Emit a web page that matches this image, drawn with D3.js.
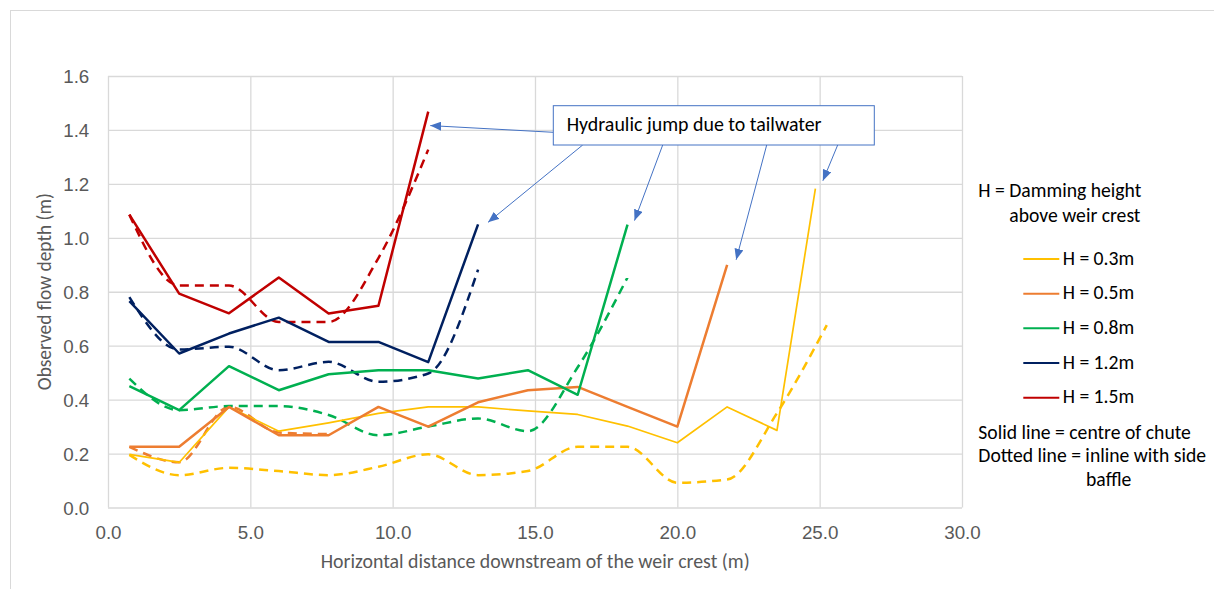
<!DOCTYPE html>
<html>
<head>
<meta charset="utf-8">
<script src="https://cdn.jsdelivr.net/npm/d3@7"></script>
<style>
  html, body { margin: 0; padding: 0; background: #fff; }
  svg { display: block; font-family: Carlito, Calibri, "Open Sans", sans-serif; }
</style>
</head>
<body>
<svg id="chart" width="1214" height="589"></svg>
<script>
// Measuring stations (m downstream of the weir crest)
const stations = [0.75, 2.5, 4.25, 6.0, 7.75, 9.5, 11.25, 13.0, 14.75, 16.5, 18.25, 20.0, 21.75, 23.5, 25.25];
const stationsH03Centre = [0.75, 2.5, 4.25, 6.0, 7.75, 9.5, 11.25, 13.0, 14.75, 16.5, 18.25, 20.0, 21.75, 23.5, 24.85];

// Observed flow depth (m): centre of chute (solid) and inline with side baffle (dashed)
const h03Centre = [0.197, 0.167, 0.373, 0.283, 0.314, 0.349, 0.373, 0.373, 0.358, 0.345, 0.302, 0.240, 0.373, 0.286, 1.182];
const h03Side   = [0.195, 0.120, 0.147, 0.135, 0.120, 0.151, 0.197, 0.120, 0.135, 0.225, 0.225, 0.092, 0.104, 0.350, 0.676];
const h05Centre = [0.225, 0.225, 0.373, 0.268, 0.268, 0.373, 0.300, 0.390, 0.435, 0.447, 0.373, 0.300, 0.900];
const h05Side   = [0.225, 0.168, 0.373, 0.278, 0.272];
const h08Centre = [0.450, 0.361, 0.524, 0.435, 0.494, 0.509, 0.509, 0.478, 0.509, 0.418, 1.049];
const h08Side   = [0.478, 0.361, 0.376, 0.376, 0.343, 0.268, 0.300, 0.330, 0.283, 0.520, 0.853];
const h12Centre = [0.765, 0.571, 0.645, 0.704, 0.614, 0.614, 0.539, 1.050];
const h12Side   = [0.780, 0.586, 0.596, 0.509, 0.540, 0.466, 0.497, 0.882];
const h15Centre = [1.086, 0.793, 0.720, 0.853, 0.719, 0.748, 1.468];
const h15Side   = [1.086, 0.823, 0.823, 0.688, 0.688, 0.925, 1.327];

const legendLabels = ["H = 0.3m", "H = 0.5m", "H = 0.8m", "H = 1.2m", "H = 1.5m"];
const seriesColors = ["#FFC000", "#ED7D31", "#00B050", "#002060", "#C00000"];
const xTicks = [0, 5, 10, 15, 20, 25, 30];
const yTicks = [0, 0.2, 0.4, 0.6, 0.8, 1.0, 1.2, 1.4, 1.6];

const svg = d3.select("#chart");
const W = 1214, H = 589;
const plot = { left: 108, right: 962, top: 76, bottom: 507.5 };

const x = d3.scaleLinear().domain([0, 30]).range([plot.left, plot.right]);
const y = d3.scaleLinear().domain([0, 1.6]).range([plot.bottom, plot.top]);

const GRID = "#d9d9d9";
const AXIS_TEXT = "#595959";

// scale a text element so its rendered width equals the given width
function fitWidth(sel, target) {
  const w = sel.node().getComputedTextLength();
  const fs = parseFloat(sel.attr("font-size"));
  sel.attr("font-size", (fs * target / w).toFixed(2));
  return fs * target / w;
}

// chart frame
svg.append("rect").attr("width", W).attr("height", H).attr("fill", "#fff");
svg.append("rect")
  .attr("x", 10.5).attr("y", 10.5).attr("width", W).attr("height", H)
  .attr("fill", "none").attr("stroke", GRID).attr("stroke-width", 1);

// gridlines
const grid = svg.append("g");
grid.append("g")
  .attr("transform", `translate(0,${plot.bottom})`)
  .call(d3.axisBottom(x).tickValues(xTicks).tickSize(-(plot.bottom - plot.top)).tickFormat(""))
  .call(g => g.select(".domain").remove())
  .call(g => g.selectAll("line").attr("stroke", GRID).attr("stroke-width", 1.3));
grid.append("g")
  .attr("transform", `translate(${plot.left},0)`)
  .call(d3.axisLeft(y).tickValues(yTicks).tickSize(-(plot.right - plot.left)).tickFormat(""))
  .call(g => g.select(".domain").remove())
  .call(g => g.selectAll("line").attr("stroke", GRID).attr("stroke-width", 1.3));

// tick labels
const xAxis = svg.append("g")
  .attr("transform", `translate(0,${plot.bottom})`)
  .call(d3.axisBottom(x).tickValues(xTicks).tickSize(0).tickPadding(0).tickFormat(d3.format(".1f")));
xAxis.select(".domain").remove();
const yAxis = svg.append("g")
  .attr("transform", `translate(89.3,0)`)
  .call(d3.axisLeft(y).tickValues(yTicks).tickSize(0).tickPadding(0).tickFormat(d3.format(".1f")));
yAxis.select(".domain").remove();

// common tick font size, sized from the "10.0" label
const probe = svg.append("text").attr("font-size", 16).text("10.0");
const tickSize = fitWidth(probe, 33.3);
probe.remove();
xAxis.selectAll("text")
  .attr("font-family", null).attr("font-size", tickSize).attr("fill", AXIS_TEXT)
  .attr("dy", null).attr("y", 539.3 - plot.bottom);
yAxis.selectAll("text")
  .attr("font-family", null).attr("font-size", tickSize).attr("fill", AXIS_TEXT)
  .attr("dy", "0.36em").attr("x", 0);

// axis titles
const xTitle = svg.append("text")
  .attr("x", 535.2).attr("y", 568.3).attr("text-anchor", "middle")
  .attr("font-size", 16).attr("fill", AXIS_TEXT)
  .text("Horizontal distance downstream of the weir crest (m)");
fitWidth(xTitle, 429);
const yTitle = svg.append("text")
  .attr("transform", "translate(44,291.7) rotate(-90)")
  .attr("text-anchor", "middle").attr("dy", "0.35em")
  .attr("font-size", 16).attr("fill", AXIS_TEXT)
  .text("Observed flow depth (m)");
fitWidth(yTitle, 197);

// series
const series = [
  { xs: stations, ys: h03Side, color: seriesColors[0], width: 2.5, dashed: true },
  { xs: stations, ys: h05Side, color: seriesColors[1], width: 2.5, dashed: true },
  { xs: stations, ys: h08Side, color: seriesColors[2], width: 2.5, dashed: true },
  { xs: stations, ys: h12Side, color: seriesColors[3], width: 2.5, dashed: true },
  { xs: stations, ys: h15Side, color: seriesColors[4], width: 2.5, dashed: true },
  { xs: stationsH03Centre, ys: h03Centre, color: seriesColors[0], width: 1.7, dashed: false },
  { xs: stations, ys: h05Centre, color: seriesColors[1], width: 2.5, dashed: false },
  { xs: stations, ys: h08Centre, color: seriesColors[2], width: 2.5, dashed: false },
  { xs: stations, ys: h12Centre, color: seriesColors[3], width: 2.5, dashed: false },
  { xs: stations, ys: h15Centre, color: seriesColors[4], width: 2.5, dashed: false }
];

const lines = svg.append("g").attr("fill", "none");
series.forEach(s => {
  const pts = s.ys.map((v, i) => [s.xs[i], v]);
  const gen = d3.line()
    .x(d => x(d[0])).y(d => y(d[1]))
    .curve(s.dashed ? d3.curveMonotoneX : d3.curveLinear);
  lines.append("path")
    .attr("d", gen(pts))
    .attr("stroke", s.color)
    .attr("stroke-width", s.width)
    .attr("stroke-linejoin", "round")
    .attr("stroke-dasharray", s.dashed ? "9,6" : null);
});

// callout: hydraulic jump
const CALLOUT = "#4472C4";
svg.append("defs").append("marker")
  .attr("id", "arrowhead")
  .attr("markerUnits", "userSpaceOnUse")
  .attr("markerWidth", 11).attr("markerHeight", 9)
  .attr("refX", 11).attr("refY", 4.5)
  .attr("orient", "auto")
  .append("path").attr("d", "M0,0 L11,4.5 L0,9 Z").attr("fill", CALLOUT);

const box = { x0: 553.3, y0: 105.7, x1: 874.3, y1: 145 };
// each arrow points at the top of a series' centre line (the jump)
const jumpTargets = [
  { xs: stations, ys: h15Centre, from: [553.3, 132.3], off: [2, 14] },
  { xs: stations, ys: h12Centre, from: [582.7, box.y1], off: [10, -2] },
  { xs: stations, ys: h08Centre, from: [662.7, box.y1], off: [7, -4] },
  { xs: stations, ys: h05Centre, from: [766.7, box.y1], off: [9, -5] },
  { xs: stationsH03Centre, ys: h03Centre, from: [837.7, box.y1], off: [7.5, -8] }
];
const arrows = svg.append("g");
jumpTargets.forEach(t => {
  const n = t.ys.length - 1;
  arrows.append("line")
    .attr("x1", t.from[0]).attr("y1", t.from[1])
    .attr("x2", x(t.xs[n]) + t.off[0]).attr("y2", y(t.ys[n]) + t.off[1])
    .attr("stroke", CALLOUT).attr("stroke-width", 1)
    .attr("marker-end", "url(#arrowhead)");
});
svg.append("rect")
  .attr("x", box.x0).attr("y", box.y0)
  .attr("width", box.x1 - box.x0).attr("height", box.y1 - box.y0)
  .attr("fill", "#fff").attr("stroke", CALLOUT).attr("stroke-width", 1);
const calloutText = svg.append("text")
  .attr("x", 566.7).attr("y", 130.7)
  .attr("font-size", 16).attr("fill", "#000")
  .text("Hydraulic jump due to tailwater");
fitWidth(calloutText, 255);

// legend
const legend = svg.append("g").attr("fill", "#000");
const probe2 = legend.append("text").attr("font-size", 16).text("Solid line = centre of chute");
const legendSize = fitWidth(probe2, 212.7);
probe2.remove();

const legendText = (tx, ty, str) => legend.append("text")
  .attr("x", tx).attr("y", ty).attr("font-size", legendSize).text(str);

legendText(978.3, 197.3, "H = Damming height");
legendText(1009.3, 221.7, "above weir crest");

const itemY = d3.scalePoint().domain(legendLabels).range([259, 397.7]);
legendLabels.forEach((lab, i) => {
  const ly = itemY(lab);
  legend.append("line")
    .attr("x1", 1023.3).attr("x2", 1059.3)
    .attr("y1", ly).attr("y2", ly)
    .attr("stroke", seriesColors[i]).attr("stroke-width", 2);
  legendText(1062.7, ly + 5.6, lab);
});

legendText(978.3, 439.3, "Solid line = centre of chute");
legendText(978.3, 461.7, "Dotted line = inline with side");
legendText(1086, 486, "baffle");
</script>
</body>
</html>
